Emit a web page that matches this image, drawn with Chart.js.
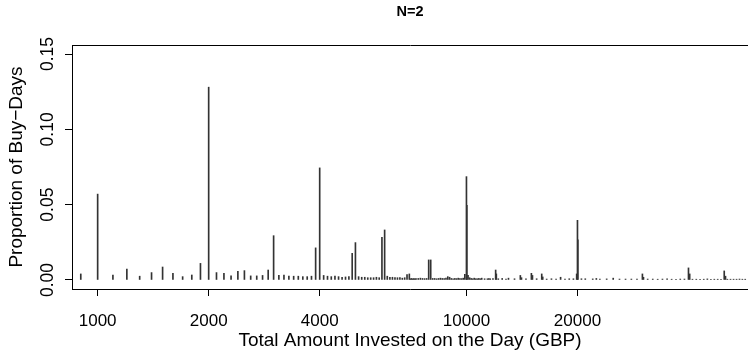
<!DOCTYPE html>
<html lang="en">
<head>
<meta charset="UTF-8">
<title>N=2</title>
<script src="https://cdn.jsdelivr.net/npm/chart.js@4/dist/chart.umd.min.js"></script>
<style>
  html, body { margin: 0; padding: 0; background: #fff; }
  #wrap { width: 748px; height: 352px; }
</style>
</head>
<body>
<div id="wrap"><canvas id="c" width="748" height="352"></canvas></div>
<script>
// amounts (GBP) and proportion of buy-days
const amounts = [
  900, 1000, 1100, 1200, 1300, 1400, 1500, 1600, 1700, 1800, 1900,
  2000, 2100, 2200, 2300, 2400, 2500, 2600, 2700, 2800, 2900,
  3000, 3100, 3200, 3300, 3400, 3500, 3600, 3700, 3800, 3900,
  4000, 4100, 4200, 4300, 4400, 4500, 4600, 4700, 4800, 4900,
  5000, 5100, 5200, 5300, 5400, 5500, 5600, 5700, 5800, 5900,
  6000, 6100, 6200, 6300, 6400, 6500, 6600, 6700, 6800, 6900,
  7000, 7050, 7100, 7150, 7200, 7250, 7300, 7400, 7500, 7600, 7700, 7800, 7900,
  8000, 8100, 8200, 8300, 8400, 8500, 8600, 8700, 8800, 8900,
  9000, 9100, 9200, 9300, 9400, 9500, 9600, 9700, 9800, 9900,
  10000, 10025, 10100, 10200, 10300, 10400, 10500, 10600, 10700, 10800, 10900,
  11000, 11200, 11400, 11500, 11600, 11800,
  12000, 12050, 12200, 12500, 12800, 13000, 13500,
  14000, 14100, 14500, 15000, 15100, 15500, 16000, 16100, 16500, 17000, 17500,
  18000, 18500, 19000, 19500, 19900,
  20000, 20050, 20500, 21000, 22000, 22500, 23000, 24000, 25000, 26000, 27000, 28000, 29000,
  30000, 30200, 31000, 32000, 33000, 34000, 35000, 36000, 37000, 38000, 39000,
  40000, 40300, 41000, 42000, 43000, 44000, 45000, 46000, 47000, 48000, 49000,
  50000, 50400, 51000, 52000, 53000, 54000, 55000, 56000, 57000
];
const proportions = [
  0.0040, 0.0570, 0.0033, 0.0073, 0.0025, 0.0049, 0.0086, 0.0044, 0.0022, 0.0033, 0.0110,
  0.1280, 0.0049, 0.0044, 0.0027, 0.0058, 0.0062, 0.0027, 0.0027, 0.0030, 0.0066,
  0.0294, 0.0030, 0.0033, 0.0025, 0.0025, 0.0025, 0.0022, 0.0022, 0.0025, 0.0213,
  0.0744, 0.0030, 0.0025, 0.0022, 0.0025, 0.0022, 0.0018, 0.0020, 0.0022, 0.0177,
  0.0248, 0.0022, 0.0018, 0.0018, 0.0015, 0.0015, 0.0015, 0.0018, 0.0015, 0.0283,
  0.0332, 0.0025, 0.0018, 0.0018, 0.0015, 0.0015, 0.0015, 0.0012, 0.0015, 0.0035,
  0.0040, 0.0008, 0.0010, 0.0007, 0.0010, 0.0008, 0.0010, 0.0010, 0.0012, 0.0010, 0.0009, 0.0010, 0.0133,
  0.0133, 0.0010, 0.0010, 0.0008, 0.0010, 0.0012, 0.0010, 0.0009, 0.0012, 0.0022,
  0.0018, 0.0010, 0.0008, 0.0010, 0.0009, 0.0012, 0.0010, 0.0009, 0.0012, 0.0038,
  0.0686, 0.0496, 0.0030, 0.0015, 0.0010, 0.0008, 0.0012, 0.0008, 0.0008, 0.0010, 0.0008,
  0.0012, 0.0008, 0.0008, 0.0010, 0.0008, 0.0010,
  0.0066, 0.0040, 0.0008, 0.0010, 0.0006, 0.0012, 0.0008,
  0.0030, 0.0015, 0.0008, 0.0044, 0.0030, 0.0008, 0.0040, 0.0020, 0.0006, 0.0008, 0.0006,
  0.0018, 0.0006, 0.0008, 0.0008, 0.0040,
  0.0396, 0.0266, 0.0008, 0.0008, 0.0007, 0.0010, 0.0006, 0.0007, 0.0012, 0.0006, 0.0006, 0.0006, 0.0006,
  0.0040, 0.0018, 0.0006, 0.0006, 0.0005, 0.0006, 0.0008, 0.0005, 0.0005, 0.0006, 0.0006,
  0.0080, 0.0040, 0.0005, 0.0005, 0.0005, 0.0005, 0.0007, 0.0005, 0.0005, 0.0005, 0.0005,
  0.0060, 0.0025, 0.0005, 0.0005, 0.0005, 0.0005, 0.0006, 0.0005, 0.0005
];
const xTicks = [1000, 2000, 4000, 10000, 20000];
const yTicks = [0, 0.05, 0.10, 0.15];

const FONT = "'Liberation Sans', Arial, Helvetica, sans-serif";

new Chart(document.getElementById('c'), {
  type: 'bar',
  data: {
    datasets: [{
      data: amounts.map((a, i) => ({ x: a, y: proportions[i] })),
      backgroundColor: '#333',
      barThickness: 1,
      borderWidth: 0
    }]
  },
  options: {
    responsive: false,
    animation: false,
    devicePixelRatio: 1,
    layout: { padding: { left: 0, right: 0, top: 0, bottom: 0 } },
    plugins: {
      legend: { display: false },
      tooltip: { enabled: false },
      title: {
        display: true,
        text: 'N=2',
        fullSize: false,
        color: '#000',
        font: { family: FONT, size: 14.5, weight: 'bold' },
        padding: { top: 3.3, bottom: 24.3 }
      }
    },
    scales: {
      x: {
        type: 'logarithmic',
        min: 852,
        max: 58000,
        offset: false,
        afterBuildTicks: s => { s.ticks = xTicks.map(v => ({ value: v })); },
        afterFit: s => { s.height = 63; },
        ticks: {
          color: '#000',
          padding: 15,
          autoSkip: false,
          maxRotation: 0,
          font: { family: FONT, size: 17 },
          callback: v => String(v)
        },
        grid: { offset: false, drawOnChartArea: false, tickLength: 7, color: '#000' },
        border: { display: true, color: '#000', width: 1 },
        title: {
          display: true,
          text: 'Total Amount Invested on the Day (GBP)',
          color: '#000',
          font: { family: FONT, size: 19 },
          padding: { top: 0, bottom: 0 }
        }
      },
      x2: {
        type: 'linear',
        position: 'top',
        min: 0,
        max: 1,
        afterFit: s => { s.height = 0; },
        ticks: { display: false },
        grid: { drawOnChartArea: false, drawTicks: false },
        border: { display: true, color: '#000', width: 1 }
      },
      y: {
        min: -0.006,
        max: 0.156,
        afterBuildTicks: s => { s.ticks = yTicks.map(v => ({ value: v })); },
        afterFit: s => { s.width = 72; },
        ticks: {
          color: '#000',
          padding: 0,
          minRotation: 90,
          maxRotation: 90,
          crossAlign: 'center',
          font: { family: FONT, size: 17.5 },
          callback: v => v.toFixed(2)
        },
        grid: { drawOnChartArea: false, tickLength: 7, color: '#000' },
        border: { display: true, color: '#000', width: 1 },
        title: {
          display: true,
          text: 'Proportion of Buy\u2212Days',
          color: '#000',
          font: { family: FONT, size: 19 },
          padding: { top: 5.6, bottom: 0 }
        }
      }
    }
  }
});
</script>
</body>
</html>
